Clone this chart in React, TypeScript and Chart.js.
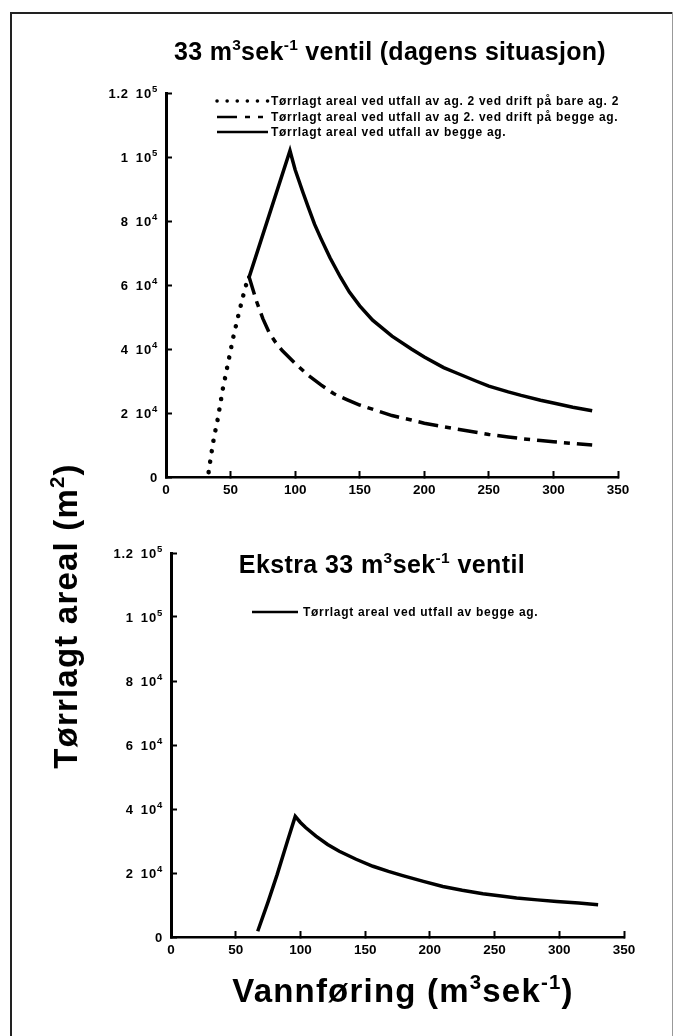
import React, { useEffect, useRef } from "react";
import { Chart, registerables } from "chart.js";

Chart.register(...registerables);

// ---------- data ----------
const xTickValues = [0, 50, 100, 150, 200, 250, 300, 350];
const yTickValues = [0, 20000, 40000, 60000, 80000, 100000, 120000];
const yTickMantissa = ["0", "2", "4", "6", "8", "1", "1.2"];
const yTickExponent = ["", "4", "4", "4", "4", "5", "5"];

const legendBareAg2 = "Tørrlagt areal ved utfall av ag. 2 ved drift på bare ag. 2";
const legendBeggeAg2 = "Tørrlagt areal ved utfall av ag 2. ved drift på begge ag.";
const legendBegge = "Tørrlagt areal ved utfall av begge ag.";

// top chart – dotted series
const topDottedX = [33, 35, 37, 40, 44, 48, 52, 56, 60, 64];
const topDottedY = [1500, 7000, 12000, 18000, 27500, 35500, 43500, 50500, 57000, 63000];
// top chart – dashed series
const topDashedX = [64, 67, 70, 75, 80, 85, 90, 100, 110, 120, 130, 140, 150, 165, 175, 190, 200, 215, 225, 240, 250, 265, 275, 290, 300, 315, 330];
const topDashedY = [63000, 59000, 55000, 49500, 45000, 42000, 39500, 35500, 31800, 28800, 26000, 24200, 22500, 20500, 19200, 17800, 16800, 15700, 15000, 14000, 13300, 12500, 12000, 11400, 11000, 10500, 10000];
// top chart – solid series
const topSolidX = [64, 80, 96, 98, 100, 103, 106, 110, 115, 120, 127, 135, 142, 150, 160, 175, 190, 200, 215, 225, 240, 250, 265, 275, 290, 300, 315, 330];
const topSolidY = [62000, 82000, 102000, 99000, 96000, 92500, 89000, 84500, 79000, 74500, 68500, 62500, 57800, 53500, 49000, 44000, 40000, 37500, 34200, 32500, 30000, 28400, 26600, 25500, 24000, 23100, 21800, 20700];
// bottom chart – solid series
const botSolidX = [67, 75, 82, 90, 96, 100, 104, 112, 121, 130, 143, 156, 168, 179, 195, 210, 225, 241, 255, 267, 283, 298, 315, 330];
const botSolidY = [1800, 11000, 19500, 30000, 37700, 35800, 34200, 31500, 28900, 26800, 24300, 22100, 20500, 19200, 17400, 15800, 14600, 13500, 12800, 12200, 11600, 11100, 10600, 10100];

// ---------- helpers ----------
const pts = (xs: number[], ys: number[]) => xs.map((x, i) => ({ x, y: ys[i] }));

const FONT = "'Liberation Sans', Arial, Helvetica, sans-serif";

const lineLegend = {
  id: "lineLegend",
  afterDraw(chart: any, _args: any, opts: any) {
    if (!opts || !opts.rows) return;
    const ctx = chart.ctx;
    chart.data.datasets.forEach((ds: any, i: number) => {
      const yy = opts.rows[i];
      ctx.save();
      ctx.strokeStyle = "#000";
      ctx.lineWidth = ds.legendWidth || opts.lineWidth;
      ctx.lineCap = ds.borderCapStyle || "butt";
      ctx.setLineDash(ds.legendDash || ds.borderDash || []);
      ctx.beginPath();
      ctx.moveTo(opts.x, yy);
      ctx.lineTo(opts.x + opts.sample, yy);
      ctx.stroke();
      ctx.setLineDash([]);
      ctx.fillStyle = "#000";
      ctx.font = opts.font;
      (ctx as any).letterSpacing = opts.letterSpacing || "0px";
      ctx.textBaseline = "middle";
      ctx.textAlign = "left";
      ctx.fillText(ds.label, opts.x + opts.sample + opts.gap, yy + 0.5);
      ctx.restore();
    });
  },
};

const supTicks = {
  id: "supTicks",
  afterDraw(chart: any) {
    const ys = chart.scales.y;
    const ctx = chart.ctx;
    const right = chart.chartArea.left - 8;
    ctx.save();
    ctx.fillStyle = "#000";
    ctx.textBaseline = "middle";
    ctx.textAlign = "left";
    yTickValues.forEach((v, i) => {
      const py = ys.getPixelForValue(v);
      const m = yTickMantissa[i];
      const e = yTickExponent[i];
      ctx.font = `bold 13px ${FONT}`;
      (ctx as any).letterSpacing = "0.8px";
      const wm = ctx.measureText(m).width;
      if (!e) {
        ctx.fillText(m, right - wm, py + 1);
        return;
      }
      const wTen = ctx.measureText("10").width;
      ctx.font = `bold 9.5px ${FONT}`;
      const we = ctx.measureText(e).width;
      const gap = 7;
      const x0 = right - we - wTen - gap - wm;
      ctx.font = `bold 13px ${FONT}`;
      ctx.fillText(m, x0, py + 1);
      ctx.fillText("10", x0 + wm + gap, py + 1);
      ctx.font = `bold 9.5px ${FONT}`;
      ctx.fillText(e, x0 + wm + gap + wTen, py - 4);
    });
    ctx.restore();
  },
};

function makeOptions(p: { padTop: number; padRight: number; padBottom: number; yWidth: number; legend: any }) {
  return {
    responsive: false,
    animation: false as const,
    layout: { padding: { top: p.padTop, right: p.padRight, bottom: p.padBottom, left: 0 } },
    plugins: {
      legend: { display: false },
      tooltip: { enabled: false },
      title: { display: false },
      lineLegend: p.legend,
    },
    elements: { point: { radius: 0 } },
    scales: {
      x: {
        type: "linear" as const,
        min: 0,
        max: 350,
        afterBuildTicks: (s: any) => {
          s.ticks = xTickValues.map((v) => ({ value: v }));
        },
        afterFit: (s: any) => {
          s.height = 30;
        },
        border: { display: true, color: "#000", width: 2.5 },
        grid: { display: true, drawOnChartArea: false, drawTicks: true, tickLength: -6, tickWidth: 2, tickColor: "#000" },
        ticks: {
          padding: 11,
          color: "#000",
          maxRotation: 0,
          autoSkip: false,
          font: { family: FONT, size: 13.5, weight: "bold" as const },
          callback: (v: any) => String(v),
        },
      },
      y: {
        type: "linear" as const,
        min: 0,
        max: 120000,
        afterBuildTicks: (s: any) => {
          s.ticks = yTickValues.map((v) => ({ value: v }));
        },
        afterFit: (s: any) => {
          s.width = p.yWidth;
        },
        border: { display: true, color: "#000", width: 3 },
        grid: { display: true, drawOnChartArea: false, drawTicks: true, tickLength: -6, tickWidth: 2, tickColor: "#000" },
        ticks: { display: false },
      },
    },
  };
}

const Sup = ({ children }: { children: React.ReactNode }) => (
  <span style={{ fontSize: "0.62em", position: "relative", top: "-0.62em", lineHeight: 0 }}>{children}</span>
);

export default function App() {
  const topRef = useRef<HTMLCanvasElement | null>(null);
  const botRef = useRef<HTMLCanvasElement | null>(null);

  useEffect(() => {
    const legendFont = `bold 12px ${FONT}`;
    const top = new Chart(topRef.current as HTMLCanvasElement, {
      type: "line",
      data: {
        datasets: [
          {
            label: legendBareAg2,
            data: pts(topDottedX, topDottedY),
            borderColor: "#000",
            borderWidth: 4.5,
            borderDash: [0.1, 10.5],
            borderCapStyle: "round",
            legendDash: [0.1, 10],
            legendWidth: 3.5,
            tension: 0,
            fill: false,
          } as any,
          {
            label: legendBeggeAg2,
            data: pts(topDashedX, topDashedY),
            borderColor: "#000",
            borderWidth: 3.5,
            borderDash: [20, 7, 6, 7],
            legendDash: [20, 8, 5, 8, 5, 8],
            tension: 0,
            fill: false,
          } as any,
          {
            label: legendBegge,
            data: pts(topSolidX, topSolidY),
            borderColor: "#000",
            borderWidth: 3.5,
            tension: 0,
            fill: false,
          } as any,
        ],
      },
      options: makeOptions({
        padTop: 93,
        padRight: 57,
        padBottom: 13,
        yWidth: 166,
        legend: { x: 217, rows: [101, 117, 132], sample: 51, gap: 3, lineWidth: 2.5, font: legendFont, letterSpacing: "0.7px" },
      }) as any,
      plugins: [lineLegend, supTicks],
    });

    const bot = new Chart(botRef.current as HTMLCanvasElement, {
      type: "line",
      data: {
        datasets: [
          {
            label: legendBegge,
            data: pts(botSolidX, botSolidY),
            borderColor: "#000",
            borderWidth: 3.5,
            tension: 0,
            fill: false,
          } as any,
        ],
      },
      options: makeOptions({
        padTop: 33,
        padRight: 51,
        padBottom: 69,
        yWidth: 171,
        legend: { x: 252, rows: [92], sample: 46, gap: 5, lineWidth: 2.5, font: legendFont, letterSpacing: "0.7px" },
      }) as any,
      plugins: [lineLegend, supTicks],
    });

    return () => {
      top.destroy();
      bot.destroy();
    };
  }, []);

  const bold = { fontFamily: FONT, fontWeight: 700, color: "#000", whiteSpace: "nowrap" as const };

  return (
    <div style={{ position: "absolute", left: 0, top: 0, width: 675, height: 1036, background: "#fff", overflow: "hidden" }}>
      {/* frame */}
      <div style={{ position: "absolute", left: 10, top: 12, width: 662, height: 2, background: "#222" }} />
      <div style={{ position: "absolute", left: 10, top: 12, width: 2, height: 1030, background: "#222" }} />
      <div style={{ position: "absolute", left: 672, top: 12, width: 1, height: 1030, background: "#999" }} />

      <canvas ref={topRef} width={675} height={520} style={{ position: "absolute", left: 0, top: 0, width: 675, height: 520 }} />
      <canvas ref={botRef} width={675} height={516} style={{ position: "absolute", left: 0, top: 520, width: 675, height: 516 }} />

      {/* top title */}
      <div style={{ ...bold, position: "absolute", left: 90, width: 600, top: 39, fontSize: 25, lineHeight: "25px", letterSpacing: "0.3px", textAlign: "center" }}>
        33 m<Sup>3</Sup>sek<Sup>-1</Sup> ventil (dagens situasjon)
      </div>
      {/* bottom title */}
      <div style={{ ...bold, position: "absolute", left: 82, width: 600, top: 552, fontSize: 25, lineHeight: "25px", letterSpacing: "0.4px", textAlign: "center" }}>
        Ekstra 33 m<Sup>3</Sup>sek<Sup>-1</Sup> ventil
      </div>
      {/* x axis title */}
      <div style={{ ...bold, position: "absolute", left: 103, width: 600, top: 975, fontSize: 33, lineHeight: "32px", letterSpacing: "1.2px", textAlign: "center" }}>
        Vannføring (m<Sup>3</Sup>sek<Sup>-1</Sup>)
      </div>
      {/* y axis title */}
      <div
        style={{
          ...bold,
          position: "absolute",
          left: 66 - 250,
          width: 500,
          top: 616 - 16,
          height: 32,
          fontSize: 33,
          lineHeight: "32px",
          letterSpacing: "1.2px",
          textAlign: "center",
          transform: "rotate(-90deg)",
        }}
      >
        Tørrlagt areal (m<Sup>2</Sup>)
      </div>
    </div>
  );
}
